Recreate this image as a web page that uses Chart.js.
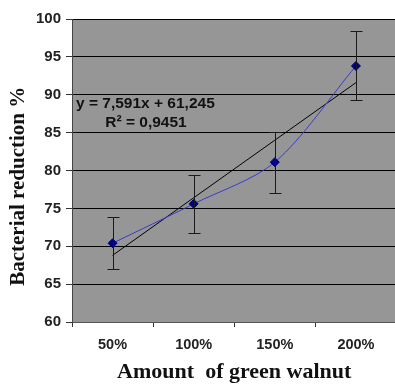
<!DOCTYPE html>
<html>
<head>
<meta charset="utf-8">
<script src="https://cdn.jsdelivr.net/npm/chart.js@4"></script>
<style>
  html, body { margin: 0; padding: 0; background: #fff; overflow: hidden; }
  #wrap { width: 402px; height: 388px; }
</style>
</head>
<body>
<div id="wrap"><canvas id="walnutChart"></canvas></div>
<script>
const categories = ['50%', '100%', '150%', '200%'];
const reduction = [70.4, 75.6, 81.1, 93.8];
const errLow = [67.0, 71.7, 77.0, 89.3];
const errHigh = [73.9, 79.4, 85.1, 98.4];
const trendValues = [68.8, 76.4, 84.0, 91.6];
const yTicks = [60, 65, 70, 75, 80, 85, 90, 95, 100];
const equationLines = ['y = 7,591x + 61,245', 'R\u00b2 = 0,9451'];

const plotBg = {
    id: 'plotBg',
    beforeDraw(chart) {
        const a = chart.chartArea, c = chart.ctx;
        c.save();
        c.fillStyle = '#969696';
        c.fillRect(a.left, a.top, a.right - a.left, a.bottom - a.top);
        c.restore();
    }
};

const errorBars = {
    id: 'errorBars',
    afterDatasetsDraw(chart) {
        const x = chart.scales.x, y = chart.scales.y, c = chart.ctx;
        c.save();
        c.strokeStyle = '#1a1a1a';
        c.lineWidth = 1;
        categories.forEach((cat, i) => {
            const px = Math.round(x.getPixelForValue(i)) + 0.5;
            const top = Math.round(y.getPixelForValue(errHigh[i])) + 0.5;
            const bot = Math.round(y.getPixelForValue(errLow[i])) + 0.5;
            c.beginPath();
            c.moveTo(px, top); c.lineTo(px, bot);
            c.moveTo(px - 6, top); c.lineTo(px + 6, top);
            c.moveTo(px - 6, bot); c.lineTo(px + 6, bot);
            c.stroke();
        });
        c.restore();
    }
};

const equation = {
    id: 'equation',
    afterDraw(chart) {
        const c = chart.ctx;
        c.save();
        c.fillStyle = '#111';
        c.font = 'bold 15.5px "Liberation Sans", Arial, sans-serif';
        c.textAlign = 'left';
        c.textBaseline = 'middle';
        c.fillText(equationLines[0], 76, 104);
        c.textAlign = 'center';
        c.fillText(equationLines[1], 146, 123);
        c.restore();
    }
};

new Chart(document.getElementById('walnutChart'), {
    type: 'line',
    data: {
        labels: categories,
        datasets: [
            {
                label: 'Trend',
                data: trendValues,
                borderColor: '#000',
                borderWidth: 1,
                pointRadius: 0,
                tension: 0,
                order: 2
            },
            {
                label: 'Bacterial reduction',
                data: reduction,
                borderColor: '#3a3ad0',
                borderWidth: 1,
                backgroundColor: '#000080',
                pointStyle: 'rectRot',
                pointRadius: 4.5,
                pointBorderColor: '#000080',
                tension: 0.3,
                order: 1
            }
        ]
    },
    options: {
        responsive: true,
        maintainAspectRatio: false,
        animation: false,
        layout: { padding: { top: 19, right: 0, left: 0, bottom: 0 } },
        plugins: { legend: { display: false }, tooltip: { enabled: false } },
        scales: {
            x: {
                offset: true,
                afterFit(scale) { scale.height = 66; },
                grid: {
                    offset: true,
                    drawOnChartArea: false,
                    drawTicks: true,
                    tickLength: 5,
                    color: '#333'
                },
                border: { color: '#555', width: 1 },
                ticks: {
                    color: '#222',
                    padding: 9,
                    font: { family: '"Liberation Sans", Arial, sans-serif', size: 14.5, weight: 'bold' }
                },
                title: {
                    display: true,
                    text: 'Amount  of green walnut',
                    color: '#111',
                    padding: { top: 0, bottom: 2 },
                    font: { family: '"Liberation Serif", "Times New Roman", serif', size: 22, weight: 'bold' }
                }
            },
            y: {
                min: 60,
                max: 100,
                afterBuildTicks(scale) {
                    scale.ticks = yTicks.map(v => ({ value: v }));
                },
                afterFit(scale) { scale.width = 72; },
                grid: {
                    color: '#000',
                    lineWidth: 1,
                    tickLength: 6,
                    tickColor: '#333'
                },
                border: { color: '#444', width: 1 },
                ticks: {
                    color: '#222',
                    padding: 5,
                    font: { family: '"Liberation Sans", Arial, sans-serif', size: 15, weight: 'bold' }
                },
                title: {
                    display: true,
                    text: 'Bacterial reduction %      ',
                    color: '#111',
                    padding: { top: 6, bottom: 0 },
                    font: { family: '"Liberation Serif", "Times New Roman", serif', size: 21, weight: 'bold' }
                }
            }
        }
    },
    plugins: [plotBg, errorBars, equation]
});
</script>
</body>
</html>
